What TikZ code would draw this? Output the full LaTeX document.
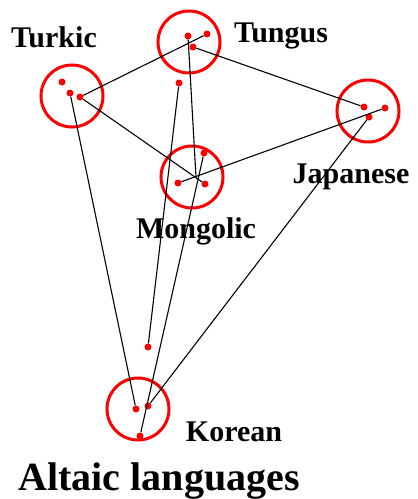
\documentclass[tikz,border=0pt]{standalone}
\usepackage{fontspec}
\setmainfont{Liberation Serif}
\begin{document}
\begin{tikzpicture}[x=1pt,y=-1pt]
    \tikzstyle{family}=[circle,draw=red,line width=3pt,minimum size=62pt,inner sep=0pt]
    \tikzstyle{lang}=[circle,fill=red,minimum size=7pt,inner sep=0pt]
    \tikzstyle{link}=[draw=black,line width=1.1pt]
    \tikzstyle{annot}=[anchor=base,inner sep=0pt,font=\fontsize{30}{30}\selectfont\bfseries]

    \useasboundingbox (0,0) rectangle (418,499);

    % language families
    \foreach \n/\x/\y in {Tk/72/96, Tg/189/42, J/368/111, M/192/177, K/138/409}{
        \node[family] (\n) at (\x,\y){};
    }

    % single languages
    \foreach \n/\x/\y in {Tk-1/62/82, Tk-2/70/93, Tk-3/80/97,
                          Tg-1/188/36, Tg-2/207/34, Tg-3/193/47,
                          J-1/364/107, J-2/385/108, J-3/369/117,
                          M-1/178/183, M-2/205/184, M-3/204/153,
                          K-1/136/409, K-2/148/406, K-3/140/436,
                          X-1/179/83, X-2/148/347}{
        \node[lang] (\n) at (\x,\y){};
    }
    \coordinate (hub) at (196,177);

    \foreach \a/\b in {Tk-3/Tg-2, Tk-3/M-2, Tk-2/K-1, Tg-1/hub, Tg-3/J-1,
                       J-2/M-1, J-3/K-2, K-3/M-3, X-1/X-2}{
        \path[link] (\a) -- (\b);
    }

    \node[annot] (tk-l) at (54,47) {Turkic};
    \node[annot] (tg-l) at (281,42) {Tungus};
    \node[annot] (j-l) at (351,183) {Japanese};
    \node[annot] (m-l) at (196,238) {Mongolic};
    \node[annot] (k-l) at (234,441) {Korean};
    \node[annot,font=\fontsize{40}{40}\selectfont\bfseries] (title) at (159,490) {Altaic languages};
\end{tikzpicture}
\end{document}
